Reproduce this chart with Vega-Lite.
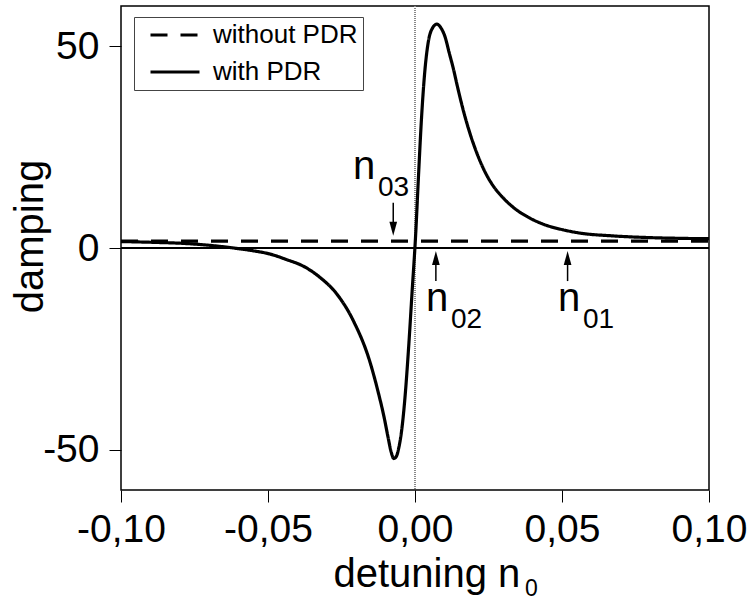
{
  "$schema": "https://vega.github.io/schema/vega-lite/v6.json",
  "width": 588,
  "height": 484,
  "autosize": {"type": "none"},
  "padding": {"left": 121, "top": 6, "right": 41, "bottom": 113},
  "background": "white",
  "config": {
    "font": "Liberation Sans",
    "view": {"stroke": "black", "strokeWidth": 1.5},
    "axis": {
      "domain": false,
      "grid": false,
      "tickColor": "black",
      "tickSize": 12,
      "tickWidth": 1,
      "labelFont": "Liberation Sans",
      "labelFontSize": 39,
      "labelColor": "black",
      "titleFont": "Liberation Sans",
      "titleFontSize": 40,
      "titleFontWeight": "normal",
      "titleColor": "black"
    }
  },
  "datasets": {
    "curves": [
      {"x": -0.1, "y": 1.7, "series": "without PDR"},
      {"x": 0.1, "y": 1.7, "series": "without PDR"},
      {"x": -0.1, "y": 1.6, "series": "with PDR"},
      {"x": -0.0889, "y": 1.4, "series": "with PDR"},
      {"x": -0.0777, "y": 1.1, "series": "with PDR"},
      {"x": -0.0663, "y": 0.4, "series": "with PDR"},
      {"x": -0.0607, "y": -0.1, "series": "with PDR"},
      {"x": -0.055, "y": -0.7, "series": "with PDR"},
      {"x": -0.0493, "y": -1.5, "series": "with PDR"},
      {"x": -0.0436, "y": -2.9, "series": "with PDR"},
      {"x": -0.038, "y": -4.5, "series": "with PDR"},
      {"x": -0.0323, "y": -7.3, "series": "with PDR"},
      {"x": -0.0266, "y": -11.4, "series": "with PDR"},
      {"x": -0.021, "y": -18.0, "series": "with PDR"},
      {"x": -0.0153, "y": -28.3, "series": "with PDR"},
      {"x": -0.0125, "y": -35.8, "series": "with PDR"},
      {"x": -0.0105, "y": -42.0, "series": "with PDR"},
      {"x": -0.0092, "y": -46.8, "series": "with PDR"},
      {"x": -0.0081, "y": -50.6, "series": "with PDR"},
      {"x": -0.0072, "y": -52.2, "series": "with PDR"},
      {"x": -0.0063, "y": -51.6, "series": "with PDR"},
      {"x": -0.0055, "y": -49.5, "series": "with PDR"},
      {"x": -0.0045, "y": -45.0, "series": "with PDR"},
      {"x": -0.0034, "y": -37.0, "series": "with PDR"},
      {"x": -0.0022, "y": -25.0, "series": "with PDR"},
      {"x": -0.001, "y": -11.0, "series": "with PDR"},
      {"x": 0.0002, "y": 3.0, "series": "with PDR"},
      {"x": 0.0012, "y": 18.0, "series": "with PDR"},
      {"x": 0.0022, "y": 32.0, "series": "with PDR"},
      {"x": 0.0033, "y": 43.5, "series": "with PDR"},
      {"x": 0.0045, "y": 51.0, "series": "with PDR"},
      {"x": 0.006, "y": 54.6, "series": "with PDR"},
      {"x": 0.0074, "y": 55.5, "series": "with PDR"},
      {"x": 0.0088, "y": 54.6, "series": "with PDR"},
      {"x": 0.0102, "y": 52.4, "series": "with PDR"},
      {"x": 0.0116, "y": 48.5, "series": "with PDR"},
      {"x": 0.013, "y": 44.6, "series": "with PDR"},
      {"x": 0.0147, "y": 39.2, "series": "with PDR"},
      {"x": 0.0164, "y": 34.2, "series": "with PDR"},
      {"x": 0.0181, "y": 29.8, "series": "with PDR"},
      {"x": 0.0198, "y": 26.0, "series": "with PDR"},
      {"x": 0.0221, "y": 21.6, "series": "with PDR"},
      {"x": 0.0245, "y": 17.9, "series": "with PDR"},
      {"x": 0.0266, "y": 15.4, "series": "with PDR"},
      {"x": 0.0295, "y": 12.8, "series": "with PDR"},
      {"x": 0.0334, "y": 10.1, "series": "with PDR"},
      {"x": 0.0391, "y": 7.4, "series": "with PDR"},
      {"x": 0.0448, "y": 5.6, "series": "with PDR"},
      {"x": 0.0504, "y": 4.5, "series": "with PDR"},
      {"x": 0.0561, "y": 3.7, "series": "with PDR"},
      {"x": 0.0674, "y": 3.0, "series": "with PDR"},
      {"x": 0.0788, "y": 2.6, "series": "with PDR"},
      {"x": 0.0901, "y": 2.4, "series": "with PDR"},
      {"x": 0.1, "y": 2.3, "series": "with PDR"}
    ],
    "notes": [
      {"sub": "03", "tx": -0.0211, "ty": 17.0, "ax": -0.0074, "tail": 11.2, "head": 4.8, "dir": "down"},
      {"sub": "02", "tx": 0.0037, "ty": -15.7, "ax": 0.0071, "tail": -8.2, "head": -2.5, "dir": "up"},
      {"sub": "01", "tx": 0.0486, "ty": -15.7, "ax": 0.0519, "tail": -8.2, "head": -2.5, "dir": "up"}
    ],
    "titlesub": [
      {"sub": "0", "x": 0.0374, "y": -60}
    ]
  },
  "layer": [
    {
      "data": {"name": "curves"},
      "mark": {"type": "rule", "color": "#888888", "strokeWidth": 1, "strokeDash": [1, 1]},
      "encoding": {
        "x": {"datum": 0, "type": "quantitative", "scale": {"domain": [-0.1, 0.1], "nice": false}}
      }
    },
    {
      "data": {"name": "curves"},
      "mark": {"type": "rule", "color": "black", "strokeWidth": 1},
      "encoding": {
        "y": {"datum": 0, "type": "quantitative", "scale": {"domain": [-60, 60], "nice": false}}
      }
    },
    {
      "data": {"name": "curves"},
      "mark": {"type": "line", "color": "black", "strokeWidth": 3.2, "strokeCap": "butt", "interpolate": "monotone"},
      "encoding": {
        "x": {
          "field": "x",
          "type": "quantitative",
          "scale": {"domain": [-0.1, 0.1], "nice": false},
          "axis": {
            "values": [-0.1, -0.05, 0, 0.05, 0.1],
            "labelExpr": "(datum.value < 0 ? '-' : '') + replace(format(abs(datum.value), '.2f'), '.', ',')",
            "labelPadding": 8,
            "labelFlush": false,
            "title": "detuning n",
            "titleAlign": "left",
            "titleBaseline": "alphabetic",
            "titleX": 212,
            "titleY": 96
          }
        },
        "y": {
          "field": "y",
          "type": "quantitative",
          "scale": {"domain": [-60, 60], "nice": false},
          "axis": {
            "values": [-50, 0, 50],
            "labelExpr": "(datum.value < 0 ? '-' : '') + abs(datum.value)",
            "labelPadding": 10,
            "title": "damping",
            "titleAngle": 270,
            "titleAlign": "center",
            "titleBaseline": "alphabetic",
            "titleX": -79,
            "titleY": 230
          }
        },
        "strokeDash": {
          "field": "series",
          "type": "nominal",
          "scale": {"domain": ["without PDR", "with PDR"], "range": [[17, 13], [1, 0]]},
          "legend": {
            "title": null,
            "orient": "none",
            "legendX": 13,
            "legendY": 11,
            "symbolType": "M-2.45,0H2.45",
            "symbolSize": 400,
            "symbolStrokeWidth": 3.2,
            "symbolStrokeColor": "black",
            "symbolFillColor": "transparent",
            "symbolOffset": 23,
            "labelFont": "Liberation Sans",
            "labelFontSize": 26,
            "labelColor": "black",
            "labelOffset": 25,
            "rowPadding": 11,
            "padding": 5,
            "strokeColor": "#444444",
            "fillColor": "white"
          }
        }
      }
    },
    {
      "data": {"name": "notes"},
      "mark": {"type": "rule", "color": "black", "strokeWidth": 1.5},
      "encoding": {
        "x": {"field": "ax", "type": "quantitative", "scale": {"domain": [-0.1, 0.1], "nice": false}},
        "y": {"field": "tail", "type": "quantitative", "scale": {"domain": [-60, 60], "nice": false}},
        "y2": {"field": "head"}
      }
    },
    {
      "data": {"name": "notes"},
      "mark": {"type": "point", "filled": true, "color": "black", "opacity": 1, "size": 196},
      "encoding": {
        "x": {"field": "ax", "type": "quantitative", "scale": {"domain": [-0.1, 0.1], "nice": false}},
        "y": {"field": "head", "type": "quantitative", "scale": {"domain": [-60, 60], "nice": false}},
        "shape": {
          "field": "dir",
          "type": "nominal",
          "scale": {"domain": ["down", "up"], "range": ["M0,1L0.55,-1L-0.55,-1Z", "M0,-1L0.55,1L-0.55,1Z"]},
          "legend": null
        }
      }
    },
    {
      "data": {"name": "notes"},
      "mark": {"type": "text", "font": "Liberation Sans", "fontSize": 40, "align": "left", "baseline": "alphabetic", "color": "black"},
      "encoding": {
        "x": {"field": "tx", "type": "quantitative", "scale": {"domain": [-0.1, 0.1], "nice": false}},
        "y": {"field": "ty", "type": "quantitative", "scale": {"domain": [-60, 60], "nice": false}},
        "text": {"value": "n"}
      }
    },
    {
      "data": {"name": "notes"},
      "mark": {"type": "text", "font": "Liberation Sans", "fontSize": 28, "align": "left", "baseline": "alphabetic", "color": "black", "dx": 25, "dy": 17},
      "encoding": {
        "x": {"field": "tx", "type": "quantitative", "scale": {"domain": [-0.1, 0.1], "nice": false}},
        "y": {"field": "ty", "type": "quantitative", "scale": {"domain": [-60, 60], "nice": false}},
        "text": {"field": "sub"}
      }
    },
    {
      "data": {"name": "titlesub"},
      "mark": {"type": "text", "font": "Liberation Sans", "fontSize": 23, "align": "left", "baseline": "alphabetic", "color": "black", "dy": 106},
      "encoding": {
        "x": {"field": "x", "type": "quantitative", "scale": {"domain": [-0.1, 0.1], "nice": false}},
        "y": {"field": "y", "type": "quantitative", "scale": {"domain": [-60, 60], "nice": false}},
        "text": {"field": "sub"}
      }
    }
  ]
}
